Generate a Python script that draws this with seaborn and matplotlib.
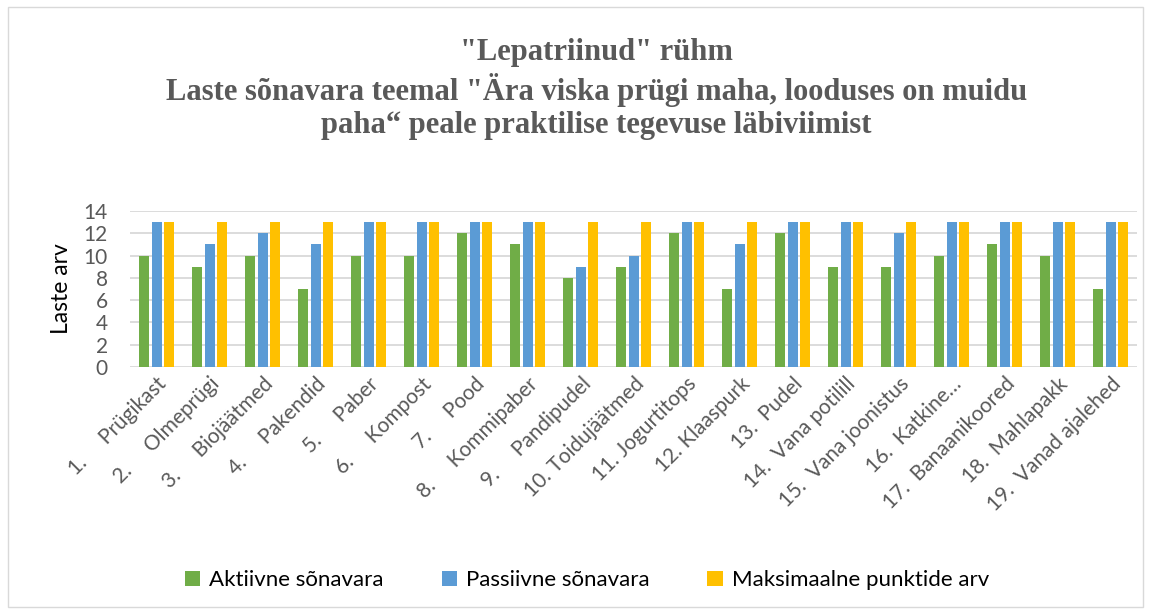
import pandas as pd
import seaborn as sns
import matplotlib.pyplot as plt
from matplotlib.patches import Rectangle

# labels as they appear under the bars (Excel-style numbered list)
labels = ["1.     Prügikast", "2.     Olmeprügi", "3.     Biojäätmed", "4.     Pakendid",
          "5.     Paber", "6.     Kompost", "7.     Pood", "8.     Kommipaber",
          "9.     Pandipudel", "10. Toidujäätmed", "11. Jogurtitops", "12. Klaaspurk",
          "13.  Pudel", "14.  Vana potilill", "15.  Vana joonistus", "16.  Katkine…",
          "17.  Banaanikoored", "18.  Mahlapakk", "19.  Vanad ajalehed"]
aktiivne = [10, 9, 10, 7, 10, 10, 12, 11, 8, 9, 12, 7, 12, 9, 9, 10, 11, 10, 7]
passiivne = [13, 11, 12, 11, 13, 13, 13, 13, 9, 10, 13, 11, 13, 13, 12, 13, 13, 13, 13]
maksimaalne = [13] * 19
series = ["Aktiivne sõnavara", "Passiivne sõnavara", "Maksimaalne punktide arv"]
colors = ["#70AD47", "#5B9BD5", "#FFC000"]

df = pd.DataFrame({"label": labels * 3,
                   "value": aktiivne + passiivne + maksimaalne,
                   "series": [s for s in series for _ in labels]})

sns.set_style("white")
plt.rcParams["font.family"] = ["Lato", "DejaVu Sans"]
gray = "#595959"

fig = plt.figure(figsize=(11.51, 6.14), dpi=100)
ax = fig.add_axes([0.113, 0.4023, 0.875, 0.254])

sns.barplot(data=df, x="label", y="value", hue="series", hue_order=series,
            palette=colors, saturation=1, width=0.7, gap=0.2, linewidth=0, ax=ax)

ax.set_ylim(0, 14)
ax.set_yticks(range(0, 15, 2))
ax.set_xlim(-0.5, len(labels) - 0.5)
ax.yaxis.grid(True, color="#D9D9D9", linewidth=1.3)
ax.set_axisbelow(True)
sns.despine(ax=ax, left=True, bottom=True)
ax.tick_params(length=0, labelsize=15, colors=gray)
ax.tick_params(axis="y", pad=16)
ax.tick_params(axis="x", pad=5)
plt.setp(ax.get_xticklabels(), rotation=45, ha="right", rotation_mode="anchor")
ax.set_xlabel("")
ax.set_ylabel("Laste arv", fontsize=16.5, color="black", labelpad=8)

ax.legend(loc="center", bbox_to_anchor=(0.51, 0.055), bbox_transform=fig.transFigure,
          ncol=3, frameon=False, fontsize=16, handlelength=0.7, handleheight=0.7,
          columnspacing=2.6, handletextpad=0.4, labelcolor="black")

fig.text(0.518, 0.855,
         "\"Lepatriinud\" rühm\nLaste sõnavara teemal \"Ära viska prügi maha, looduses on muidu\npaha“ peale praktilise tegevuse läbiviimist",
         ha="center", va="center", fontsize=22, fontweight="bold", color=gray,
         family="Liberation Serif", linespacing=1.2)

fig.patches.append(Rectangle((0.007, 0.012), 0.986, 0.976, transform=fig.transFigure,
                             fill=False, edgecolor="#D9D9D9", linewidth=1))

fig.savefig("out.png", dpi=100)
